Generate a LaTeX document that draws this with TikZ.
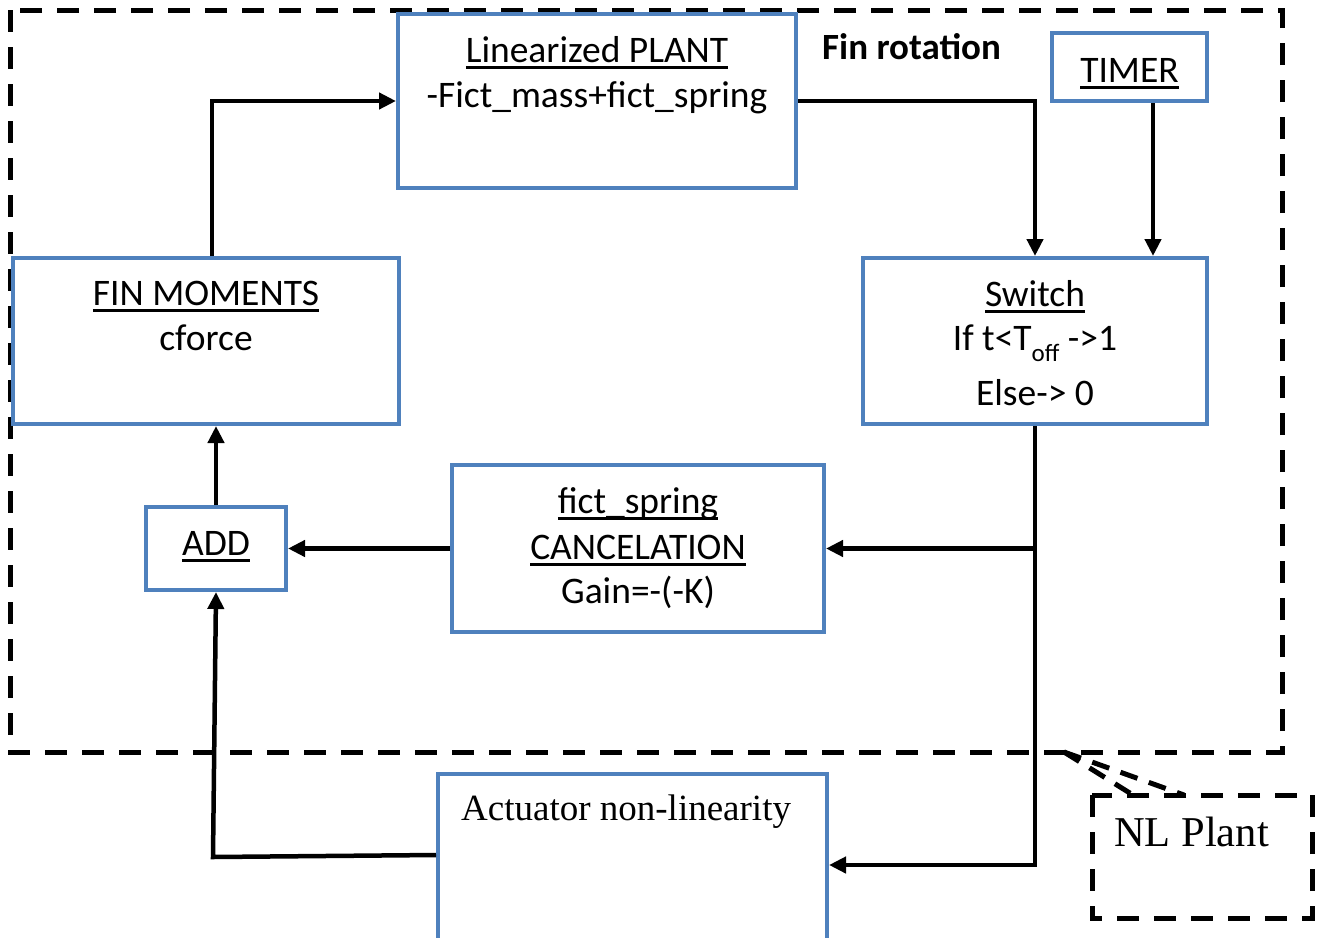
\documentclass[tikz,border=0pt]{standalone}
\usepackage{fontspec}
\setmainfont{Carlito}
\newfontfamily\seriffont{Liberation Serif}
\usetikzlibrary{arrows.meta}
\definecolor{boxblue}{HTML}{4F81BD}
\newcommand\myul[1]{\setbox0\hbox{#1}\rlap{\rule[-6.5pt]{\wd0}{2.8pt}}\box0}
\tikzset{
  blk/.style={draw=boxblue, line width=4pt, rectangle, inner sep=0pt, fill=white},
  arr/.style={line width=4.5pt, -{Triangle[length=17pt,width=16pt]}},
  dashbox/.style={line width=5pt, dash pattern=on 22pt off 15pt},
  txt/.style={anchor=base, inner sep=0pt, font=\fontsize{37.5}{44}\selectfont},
  stxt/.style={anchor=base west, inner sep=0pt, font=\fontsize{37}{44}\selectfont\seriffont},
}
\begin{document}
\begin{tikzpicture}[x=1pt,y=-1pt]
\useasboundingbox (0,0) rectangle (1322,937);
\clip (0,0) rectangle (1322,937);
% outer dashed boundary
\draw[dashbox] (10,10) rectangle (1282,752);
% NL plant callout
\draw[dashbox] (1092,795) rectangle (1312,918);
\coordinate (tip) at (1064,752);
\coordinate (c1) at (1133,795);
\coordinate (c2) at (1184,795);
\draw[line width=5pt, dash pattern=on 18pt off 12pt] (tip) -- (c1);
\draw[line width=5pt, dash pattern=on 18pt off 12pt] (tip) -- (c2);
\node[stxt, font=\fontsize{42.5}{48}\selectfont\seriffont] (nl) at (1114,846) {NL Plant};

% blocks
\node[blk, minimum width=398pt, minimum height=174pt] (plant) at (597,101) {};
\node[blk, minimum width=155pt, minimum height=68pt] (timer) at (1129.5,67) {};
\node[blk, minimum width=386pt, minimum height=166pt] (fin) at (206,341) {};
\node[blk, minimum width=344pt, minimum height=166pt] (switch) at (1035,341) {};
\node[blk, minimum width=372pt, minimum height=167pt] (fict) at (638,548.5) {};
\node[blk, minimum width=140pt, minimum height=83pt] (add) at (216,548.5) {};
\node[blk, minimum width=389pt, minimum height=182pt] (act) at (632.5,865) {};

% texts
\node[txt] (t1) at (597,62) {\myul{Linearized PLANT}};
\node[txt] (t2) at (597,107) {-Fict\_mass+fict\_spring};
\node[txt] (t3) at (1129.5,82) {\myul{TIMER}};
\node[anchor=base west, inner sep=0pt, font=\fontsize{37}{44}\selectfont\bfseries] (fr) at (822,59) {Fin rotation};
\node[txt] (t4) at (206,305) {\myul{FIN MOMENTS}};
\node[txt] (t5) at (206,350) {cforce};
\node[txt] (t6) at (1035,306) {\myul{Switch}};
\node[txt] (t7) at (1035,350) {If t<T\raisebox{-0.3em}{\fontsize{25}{25}\selectfont off} ->1};
\node[txt] (t8) at (1035,405) {Else-> 0};
\node[txt] (t9) at (638,513) {\myul{fict\_spring}};
\node[txt] (t10) at (638,559) {\myul{CANCELATION}};
\node[txt] (t11) at (638,603) {Gain=-(-K)};
\node[txt] (t12) at (216,555) {\myul{ADD}};
\node[stxt] (t13) at (461,820) {Actuator non-linearity};

% connectors
\draw[arr] ([xshift=6pt]fin.north) |- (plant.west);
\draw[arr] (plant.east) -| (switch.north);
\draw[arr] ([xshift=23.5pt]timer.south) -- ([xshift=23.5pt]timer.south |- switch.north);
\draw[arr] (switch.south) |- (act.east);
\coordinate (j1) at (switch.south |- fict.east);
\draw[arr] (j1) -- (fict.east);
\draw[arr] (fict.west) -- (add.east);
\draw[arr] (add.north) -- (add.north |- fin.south);
\coordinate (bend) at ([xshift=-3pt,yshift=8pt]add.south |- act.west);
\draw[arr] ([yshift=10pt]act.west) -- (bend) -- (add.south);
\end{tikzpicture}
\end{document}
